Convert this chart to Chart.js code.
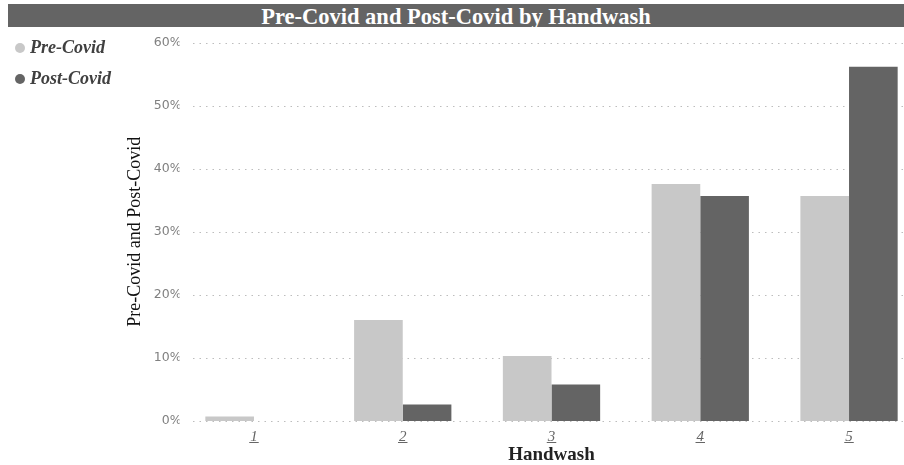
<!DOCTYPE html>
<html>
<head>
<meta charset="utf-8">
<script src="https://cdn.jsdelivr.net/npm/chart.js@4"></script>
<style>
  html, body { margin: 0; padding: 0; background: #fff; overflow: hidden; width: 904px; height: 465px; }
  #wrap { position: relative; width: 904px; height: 465px; overflow: hidden; }
  #chart { position: absolute; left: 0; top: 0; }
  #titlebar {
    position: absolute; left: 8px; top: 4px; width: 896px; height: 23px;
    background: #646464; color: #fff; text-align: center; line-height: 22px;
    font: bold 22.5px "Liberation Serif", "Times New Roman", serif; overflow: hidden;
  }
  #legend {
    position: absolute; left: 15px; top: 32px;
    font: italic bold 18px "Liberation Serif", "Times New Roman", serif; color: #404040;
  }
  .item { display: flex; align-items: center; height: 31px; white-space: nowrap; }
  .dot { width: 10px; height: 10px; border-radius: 50%; margin-right: 5px; flex: none; }
</style>
</head>
<body>
<div id="wrap">
  <canvas id="chart" width="930" height="465"></canvas>
  <div id="titlebar">Pre-Covid and Post-Covid by Handwash</div>
  <div id="legend"></div>
</div>
<script>
// Handwash score categories and the share of respondents in each, in percent
const categories = ['1', '2', '3', '4', '5'];
const preCovid = [0.7, 16.0, 10.3, 37.6, 35.7];
const postCovid = [0, 2.6, 5.8, 35.7, 56.2];
const seriesNames = ['Pre-Covid', 'Post-Covid'];
const seriesColors = ['#c8c8c8', '#646464'];
const yMax = 60;
const yStep = 10;

// dotted horizontal guides, starting just right of the tick labels
const dottedGrid = {
  id: 'dottedGrid',
  beforeDatasetsDraw(chart) {
    const ys = chart.scales.y;
    const ctx = chart.ctx;
    ctx.save();
    ctx.strokeStyle = '#bdbdbd';
    ctx.lineWidth = 1;
    ctx.setLineDash([1.5, 5]);
    ys.ticks.forEach(t => {
      const py = Math.round(ys.getPixelForValue(t.value)) + 0.5;
      ctx.beginPath();
      ctx.moveTo(193, py);
      ctx.lineTo(chart.width, py);
      ctx.stroke();
    });
    ctx.restore();
  }
};

// underline under each category label
const underlineTicks = {
  id: 'underlineTicks',
  afterDraw(chart) {
    const xs = chart.scales.x;
    const ctx = chart.ctx;
    ctx.save();
    ctx.font = 'italic 15px "Liberation Serif"';
    ctx.strokeStyle = '#666';
    ctx.lineWidth = 1;
    xs.ticks.forEach((t, i) => {
      const px = xs.getPixelForTick(i);
      const w = ctx.measureText(t.label).width;
      ctx.beginPath();
      ctx.moveTo(px - w / 2 - 1, 442.5);
      ctx.lineTo(px + w / 2 + 1, 442.5);
      ctx.stroke();
    });
    ctx.restore();
  }
};

const chart = new Chart(document.getElementById('chart'), {
  type: 'bar',
  data: {
    labels: categories,
    datasets: [
      { label: seriesNames[0], data: preCovid, backgroundColor: seriesColors[0] },
      { label: seriesNames[1], data: postCovid, backgroundColor: seriesColors[1] }
    ]
  },
  options: {
    responsive: false,
    animation: false,
    layout: { padding: { top: 42.7, right: 6.6, left: 0, bottom: 0 } },
    datasets: { bar: { categoryPercentage: 0.654, barPercentage: 1.0 } },
    plugins: { legend: { display: false }, tooltip: { enabled: false } },
    scales: {
      x: {
        grid: { display: false, drawTicks: false },
        border: { display: false },
        ticks: {
          padding: 7,
          color: '#666',
          font: { family: '"Liberation Serif"', size: 15, style: 'italic' }
        },
        title: {
          display: true,
          text: 'Handwash',
          color: '#222',
          padding: { top: 0, bottom: 0 },
          font: { family: '"Liberation Serif"', size: 19, weight: 'bold', lineHeight: 1 }
        },
        afterFit(scale) { scale.height = 44; }
      },
      y: {
        min: 0,
        max: yMax,
        grid: { display: false, drawTicks: false },
        border: { display: false },
        ticks: {
          stepSize: yStep,
          padding: -2,
          color: '#808080',
          font: { family: '"DejaVu Sans"', size: 12.5 },
          callback: v => v + '%'
        },
        title: {
          display: true,
          text: 'Pre-Covid and Post-Covid',
          color: '#111',
          padding: { top: 126, bottom: 0 },
          font: { family: '"Liberation Serif"', size: 18, lineHeight: 1 }
        },
        afterFit(scale) { scale.width = 179.6; }
      }
    }
  },
  plugins: [dottedGrid, underlineTicks]
});

// legend built from the chart's own datasets
const legend = document.getElementById('legend');
chart.data.datasets.forEach(ds => {
  const item = document.createElement('div');
  item.className = 'item';
  const dot = document.createElement('span');
  dot.className = 'dot';
  dot.style.background = ds.backgroundColor;
  const txt = document.createElement('span');
  txt.textContent = ds.label;
  item.appendChild(dot);
  item.appendChild(txt);
  legend.appendChild(item);
});
</script>
</body>
</html>
